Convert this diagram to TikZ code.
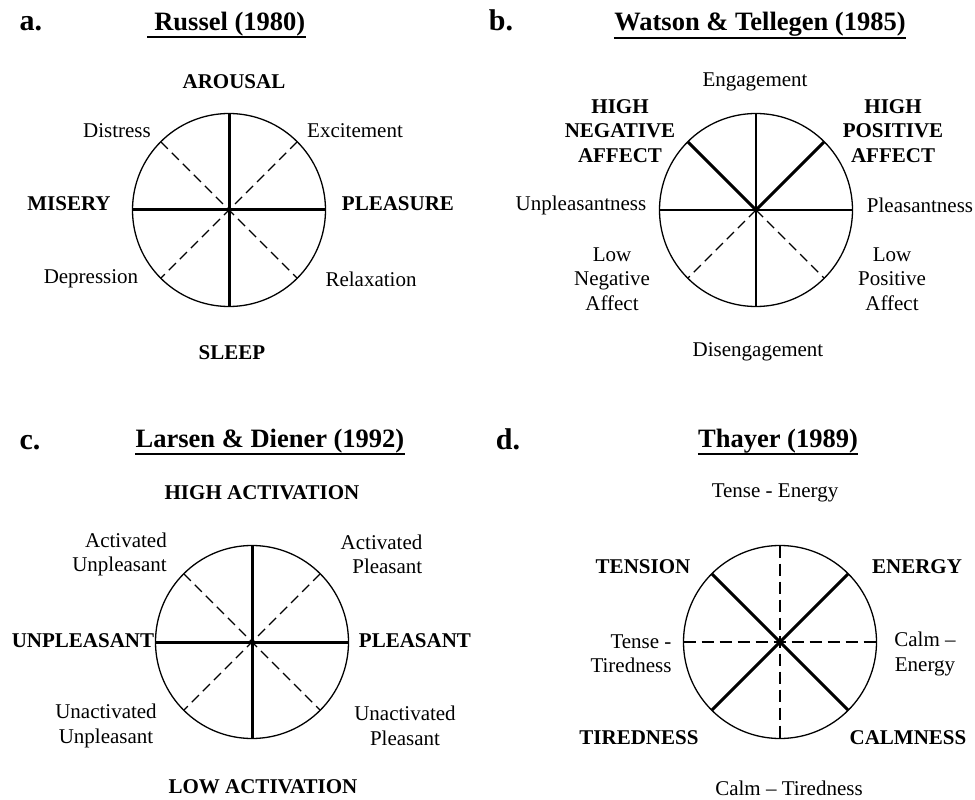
\documentclass[tikz,border=0pt]{standalone}
\usepackage{fontspec}
\setmainfont{Liberation Serif}
\usepackage{tikz}
\usetikzlibrary{calc}

\begin{document}
\begin{tikzpicture}[x=0.5pt, y=0.5pt,
    rim/.style={line width=0.65pt},
    thk/.style={line width=1.5pt},
    thn/.style={line width=0.65pt},
    dsh/.style={line width=0.65pt, dash pattern=on 5pt off 2.8pt},
    ldsh/.style={line width=0.8pt, dash pattern=on 6pt off 3pt},
    lab/.style={font=\fontsize{10.5}{12.2}\selectfont, align=center, inner sep=0pt},
    blab/.style={font=\fontsize{10.5}{12.2}\selectfont\bfseries, align=center, inner sep=0pt},
    ttl/.style={font=\fontsize{13.25}{15}\selectfont\bfseries, inner sep=0pt},
    ltr/.style={font=\fontsize{15}{17}\selectfont\bfseries, inner sep=0pt, anchor=base},
    uline/.style={line width=1pt}]
    \useasboundingbox (0,0) rectangle (975,799);
    % rayon des cercles
    \def\r{96.5}

    % --- a. Russel (1980) ---
    \coordinate (a) at (229,589);
    \node[ltr] (aLetter) at (31,768) {a.};
    \node[ttl] (aTitle) at (226.5,775) {\ Russel (1980)};
    \draw[uline] ([yshift=-0.5pt]aTitle.south west) -- ([yshift=-0.5pt]aTitle.south east);

    \draw[dsh] ($(a)+(45:\r)$) -- ($(a)+(225:\r)$);
    \draw[dsh] ($(a)+(135:\r)$) -- ($(a)+(315:\r)$);
    \draw[thk] ($(a)+(90:\r)$) -- ($(a)+(270:\r)$);
    \draw[thk] ($(a)+(180:\r)$) -- ($(a)+(0:\r)$);
    \draw[rim] (a) circle[radius=\r];

    \node[blab] (aN) at (234,717) {AROUSAL};
    \node[blab] (aS) at (232,446) {SLEEP};
    \node[blab] (aW) at (69,595) {MISERY};
    \node[blab] (aE) at (398,595) {PLEASURE};
    \node[lab] (aNW) at (117,668) {Distress};
    \node[lab] (aNE) at (355,668) {Excitement};
    \node[lab] (aSW) at (91,520) {Depression};
    \node[lab] (aSE) at (371,520) {Relaxation};

    % --- b. Watson & Tellegen (1985) ---
    \coordinate (b) at (756,589);
    \node[ltr] (bLetter) at (501,768) {b.};
    \node[ttl] (bTitle) at (760,775) {Watson \& Tellegen (1985)};
    \draw[uline] ([yshift=-0.5pt]bTitle.south west) -- ([yshift=-0.5pt]bTitle.south east);

    \draw[thn] ($(b)+(90:\r)$) -- ($(b)+(270:\r)$);
    \draw[thn] ($(b)+(180:\r)$) -- ($(b)+(0:\r)$);
    \draw[dsh] (b) -- ($(b)+(225:\r)$);
    \draw[dsh] (b) -- ($(b)+(315:\r)$);
    \draw[thk] (b) -- ($(b)+(45:\r)$);
    \draw[thk] (b) -- ($(b)+(135:\r)$);
    \draw[rim] (b) circle[radius=\r];

    \node[lab] (bN) at (755,717) {Engagement};
    \node[lab] (bS) at (758,447) {Disengagement};
    \node[lab] (bW) at (581,594) {Unpleasantness};
    \node[lab] (bE) at (920,594) {Pleasantness};
    \node[blab] (bNW) at (620,668) {HIGH\\NEGATIVE\\AFFECT};
    \node[blab] (bNE) at (893,668) {HIGH\\POSITIVE\\AFFECT};
    \node[lab] (bSW) at (612,520) {Low\\Negative\\Affect};
    \node[lab] (bSE) at (892,520) {Low\\Positive\\Affect};

    % --- c. Larsen & Diener (1992) ---
    \coordinate (c) at (252,157);
    \node[ltr] (cLetter) at (30,350) {c.};
    \node[ttl] (cTitle) at (270,358) {Larsen \& Diener (1992)};
    \draw[uline] ([yshift=-0.5pt]cTitle.south west) -- ([yshift=-0.5pt]cTitle.south east);

    \draw[dsh] ($(c)+(45:\r)$) -- ($(c)+(225:\r)$);
    \draw[dsh] ($(c)+(135:\r)$) -- ($(c)+(315:\r)$);
    \draw[thk] ($(c)+(90:\r)$) -- ($(c)+(270:\r)$);
    \draw[thk] ($(c)+(180:\r)$) -- ($(c)+(0:\r)$);
    \draw[rim] (c) circle[radius=\r];

    \node[blab] (cN) at (262,306) {HIGH ACTIVATION};
    \node[blab] (cS) at (263,12) {LOW ACTIVATION};
    \node[blab] (cW) at (83,158) {UNPLEASANT};
    \node[blab] (cE) at (415,158) {PLEASANT};
    \node[lab, align=right] (cNW) at (119.5,244.5) {Activated\\Unpleasant};
    \node[lab, align=right] (cNE) at (381.5,244.5) {Activated\\Pleasant};
    \node[lab] (cSW) at (106,73) {Unactivated\\Unpleasant};
    \node[lab] (cSE) at (405,73) {Unactivated\\Pleasant};

    % --- d. Thayer (1989) ---
    \coordinate (d) at (780,157);
    \node[ltr] (dLetter) at (508,350) {d.};
    \node[ttl] (dTitle) at (778,358) {Thayer (1989)};
    \draw[uline] ([yshift=-0.5pt]dTitle.south west) -- ([yshift=-0.5pt]dTitle.south east);

    \draw[ldsh] ($(d)+(90:\r)$) -- ($(d)+(270:\r)$);
    \draw[ldsh] ($(d)+(180:\r)$) -- ($(d)+(0:\r)$);
    \draw[thk] ($(d)+(45:\r)$) -- ($(d)+(225:\r)$);
    \draw[thk] ($(d)+(135:\r)$) -- ($(d)+(315:\r)$);
    \draw[rim] (d) circle[radius=\r];

    \node[lab] (dN) at (775,306) {Tense - Energy};
    \node[lab] (dS) at (789,11) {Calm -- Tiredness};
    \node[lab, align=right] (dW) at (631,145) {Tense -\\Tiredness};
    \node[lab] (dE) at (925,145) {Calm --\\Energy};
    \node[blab] (dNW) at (643,232) {TENSION};
    \node[blab] (dNE) at (917,232) {ENERGY};
    \node[blab] (dSW) at (639,61) {TIREDNESS};
    \node[blab] (dSE) at (908,61) {CALMNESS};
\end{tikzpicture}
\end{document}
